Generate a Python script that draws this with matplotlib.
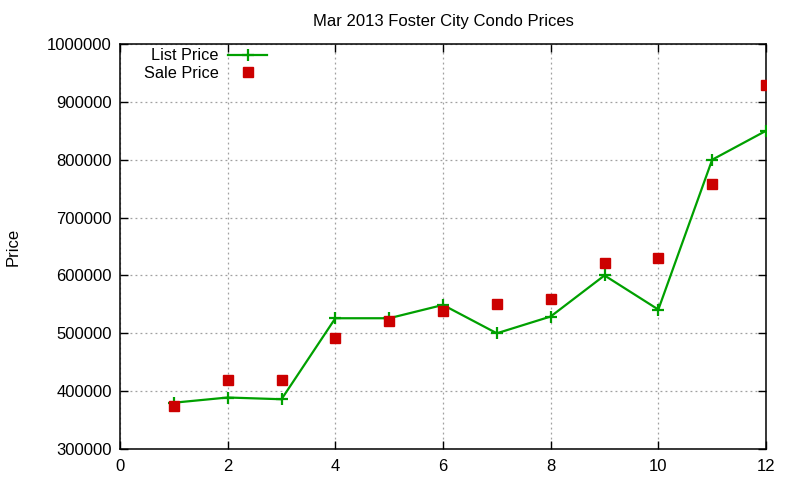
import matplotlib
matplotlib.use("Agg")
import matplotlib.pyplot as plt

plt.rcParams['font.family'] = ['Liberation Sans', 'DejaVu Sans']

listings = [1, 2, 3, 4, 5, 6, 7, 8, 9, 10, 11, 12]
list_price = [380000, 389000, 386000, 526000, 526000, 549000, 500000, 529000, 600000, 541000, 800000, 850000]
sale_price = [375000, 420000, 420000, 491000, 522000, 539000, 550000, 559000, 621000, 630000, 758000, 929000]

title = "Mar 2013 Foster City Condo Prices"
ylabel = "Price"

fig = plt.figure(figsize=(8, 4.8), dpi=100)
ax = fig.add_axes([0.15, 0.0646, 0.8075, 0.8437])

ax.plot(listings, list_price, color='#00a000', lw=1.6, marker='+', ms=8, mew=1.6,
        label='List Price', zorder=3)
ax.plot(listings, sale_price, ls='none', marker='s', ms=6.5, color='#cc0000',
        mec='#cc0000', label='Sale Price', zorder=4)

ax.set_xlim(0, 12)
ax.set_ylim(300000, 1000000)
ax.set_xticks(range(0, 13, 2))
ax.set_yticks(range(300000, 1000001, 100000))
ax.ticklabel_format(style='plain', axis='y', useOffset=False)
ax.tick_params(direction='in', length=6, width=1, top=True, right=True,
               labelsize=12, colors='black', pad=6)
ax.tick_params(axis='x', pad=7)
for s in ax.spines.values():
    s.set_linewidth(1.1)
ax.grid(True, color='#a0a0a0', ls=(0, (1.5, 2.5)), lw=0.9)
ax.set_axisbelow(True)

ax.set_title(title, fontsize=12, pad=13)
ax.set_ylabel(ylabel, fontsize=12, labelpad=19)

leg = ax.legend(loc='upper right', markerfirst=False, frameon=False, fontsize=11.7,
                handlelength=2.4, labelspacing=0.15, borderaxespad=0.0,
                bbox_to_anchor=(0.238, 1.005), handletextpad=0.6)

fig.savefig('out.png', dpi=100)
